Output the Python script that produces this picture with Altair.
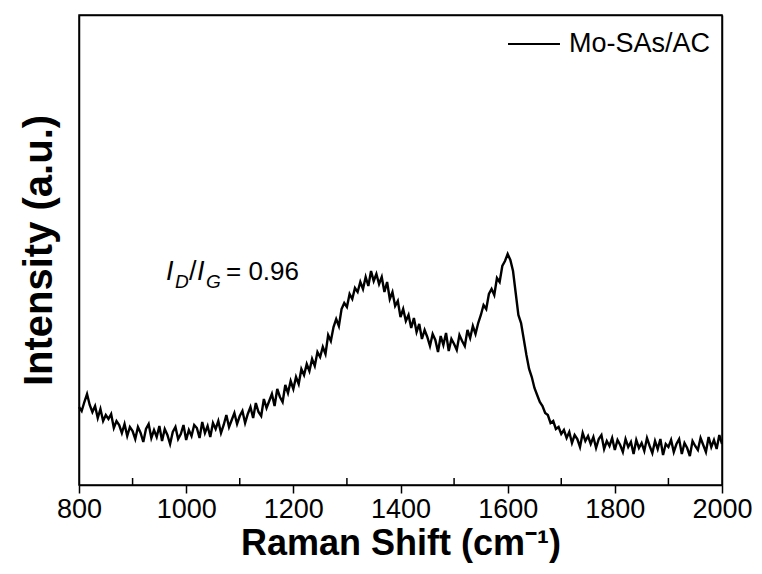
import altair as alt
import pandas as pd

# Raman shift grid (cm^-1) and intensity (arbitrary units)
shift = list(range(800, 2001, 5))
intensity = [
    78, 74, 83, 91, 80, 73, 79, 67, 76, 64, 70,
    66, 71, 57, 64, 60, 52, 61, 49, 58, 54,
    46, 58, 52, 43, 56, 61, 47, 55, 48, 59,
    44, 56, 50, 41, 53, 58, 46, 51, 60, 45,
    55, 49, 60, 57, 47, 63, 52, 59, 48, 62,
    56, 64, 52, 60, 70, 58, 65, 72, 61, 69,
    74, 62, 71, 78, 67, 82, 73, 69, 86, 77,
    84, 91, 79, 96, 88, 83, 100, 92, 104, 96,
    108, 101, 116, 110, 121, 114, 126, 119, 133, 128,
    138, 131, 150, 144, 158, 166, 159, 176, 182, 178,
    191, 186, 197, 193, 203, 196, 208, 199, 214, 204,
    211, 201, 208, 193, 203, 186, 193, 179, 184, 168,
    176, 164, 170, 157, 167, 153, 161, 146, 155, 148,
    139, 151, 145, 133, 149, 140, 152, 134, 146, 141,
    135, 150, 144, 139, 155, 147, 159, 151, 162, 170,
    180, 176, 191, 196, 190, 207, 203, 219, 224, 231,
    225, 214, 192, 170, 162, 146, 130, 116, 108, 97,
    90, 83, 79, 72, 70, 62, 64, 56, 58, 51,
    55, 47, 53, 42, 50, 46, 38, 52, 44, 49,
    41, 48, 37, 46, 50, 36, 44, 39, 47, 35,
    45, 40, 33, 46, 38, 43, 31, 45, 37, 42,
    34, 47, 39, 32, 44, 36, 46, 30, 41, 38,
    45, 33, 41, 46, 31, 42, 37, 29, 44, 39,
    35, 47, 40, 33, 48, 38, 45, 36, 50, 41,
]
series_name = ["Mo-SAs/AC"]
x_major = [800, 1000, 1200, 1400, 1600, 1800, 2000]
x_minor = [900, 1100, 1300, 1500, 1700, 1900]

df = pd.DataFrame({"shift": shift, "intensity": intensity,
                   "series": series_name * len(shift)})
minor_df = pd.DataFrame({"shift": x_minor})

FONT = "Liberation Sans"
W, H = 643, 470

xscale = alt.Scale(domain=[800, 2000], nice=False, zero=False)
yscale = alt.Scale(domain=[0, 470], nice=False, zero=False)

line = alt.Chart(df).mark_line(strokeWidth=2.4, strokeJoin="miter").encode(
    x=alt.X("shift:Q", scale=xscale,
            axis=alt.Axis(values=x_major, format="d", title="Raman Shift (cm⁻¹)",
                          tickSize=8, tickColor="black", tickWidth=1.5,
                          domainColor="black", domainWidth=1.5,
                          labelFont=FONT, labelFontSize=27, labelColor="black",
                          labelPadding=3, labelFlush=False,
                          titleFont=FONT, titleFontSize=36, titleFontWeight="bold",
                          titleColor="black", titlePadding=4, grid=False)),
    y=alt.Y("intensity:Q", scale=yscale,
            axis=alt.Axis(title="Intensity (a.u.)", labels=False, ticks=False,
                          domainColor="black", domainWidth=1.5,
                          titleFont=FONT, titleFontSize=40, titleFontWeight="bold",
                          titleColor="black", titlePadding=20, grid=False)),
    color=alt.Color("series:N", scale=alt.Scale(range=["black"]),
                    legend=alt.Legend(title=None, orient="none", legendX=428, legendY=2,
                                      symbolType="stroke", symbolSize=2700,
                                      symbolStrokeWidth=1.8, symbolStrokeColor="black",
                                      labelFont=FONT, labelFontSize=27, labelColor="black",
                                      labelOffset=8, padding=0)),
)

# top and right edges of the frame, drawn as bare axes
frame = alt.Chart(df).mark_line(opacity=0).encode(
    x=alt.X("shift:Q", scale=xscale,
            axis=alt.Axis(orient="top", labels=False, ticks=False, title=None,
                          grid=False, domainColor="black", domainWidth=1.5)),
    y=alt.Y("intensity:Q", scale=yscale,
            axis=alt.Axis(orient="right", labels=False, ticks=False, title=None,
                          grid=False, domainColor="black", domainWidth=1.5)),
)

# inward minor ticks on the bottom axis
minor = alt.Chart(minor_df).mark_rule(color="black", strokeWidth=1.5).encode(
    x=alt.X("shift:Q", scale=xscale, axis=None),
    y=alt.value(H - 7),
    y2=alt.value(H),
)

dummy = pd.DataFrame({"a": [0]})

def txt(s, x, y, size, italic=False):
    return alt.Chart(dummy).mark_text(
        text=s, font=FONT, fontSize=size, fontStyle="italic" if italic else "normal",
        align="left", baseline="alphabetic", color="black"
    ).encode(x=alt.value(x), y=alt.value(y))

ann = (txt("I", 87, 265, 27, True) + txt("D", 96, 273, 19, True)
       + txt("/", 110, 265, 27) + txt("I", 118, 265, 27, True)
       + txt("G", 127, 273, 19, True) + txt("= 0.96", 147, 265, 26))

chart = alt.layer(line, frame, minor, ann).resolve_axis(
    x="independent", y="independent"
).properties(
    width=W, height=H,
    autosize=alt.AutoSizeParams(type="none"),
    padding={"left": 79, "top": 15, "right": 40, "bottom": 89},
    background="white",
).configure_view(stroke="black", strokeWidth=1.5)

chart.save("out.html", embed_options={"renderer": "svg", "actions": False})
